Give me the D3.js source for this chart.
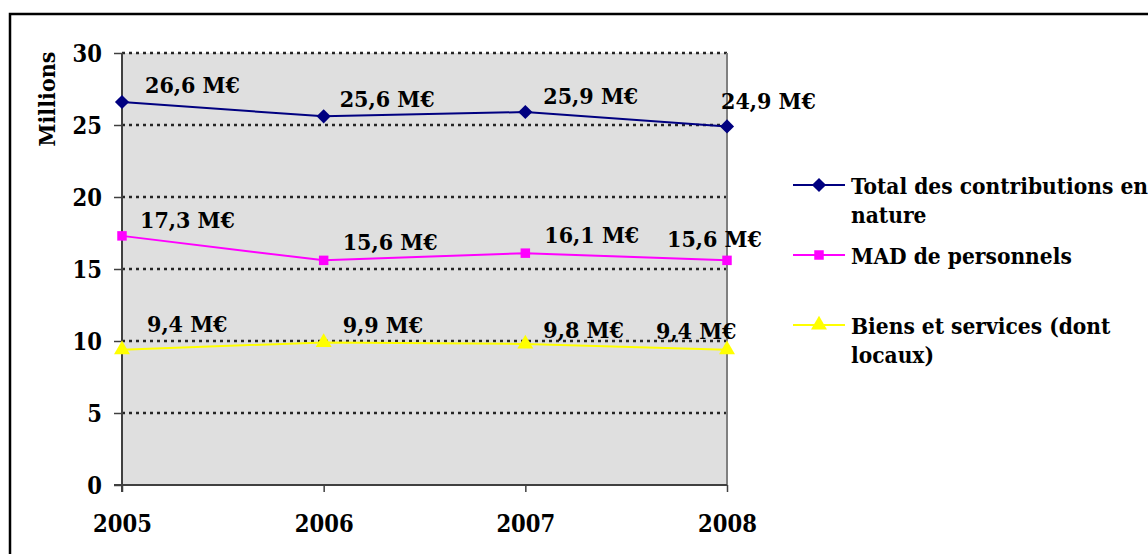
<!DOCTYPE html>
<html><head><meta charset="utf-8">
<script src="https://cdn.jsdelivr.net/npm/d3@7"></script>
<style>
html,body{margin:0;padding:0;background:#fff;}
svg text{font-family:"DejaVu Serif Condensed","DejaVu Serif",serif;font-weight:bold;fill:#000;}
</style></head>
<body>
<svg id="chart" width="1148" height="554"></svg>
<script>
const years = ["2005","2006","2007","2008"];
const seriesNames = ["Total des contributions en nature","MAD de personnels","Biens et services (dont locaux)"];
const totalValues = [26.6, 25.6, 25.9, 24.9];
const madValues = [17.3, 15.6, 16.1, 15.6];
const biensValues = [9.4, 9.9, 9.8, 9.4];
const yTicks = [0, 5, 10, 15, 20, 25, 30];
const yAxisTitle = "Millions";

// layout (label offsets relative to the point, not data)
const labelOffsets = [
  [[23,-9],[16,-9],[18,-8],[-6,-17]],
  [[18,-8],[19,-10],[19,-10],[-60,-13]],
  [[25,-18],[19,-9],[18,-6],[-71,-11]]
];
const colors = ["#000080","#FF00FF","#FFFF00"];
const shapes = [d3.symbolSquare, d3.symbolSquare, d3.symbolTriangle];
const rotations = [45, 0, 0];
const symSizes = [100, 90, 110];
const legendLines = [["Total des contributions en","nature"],["MAD de personnels"],["Biens et services (dont","locaux)"]];
const legendY = [185, 255, 325];

const svg = d3.select("#chart");
const pLeft = 122, pRight = 727, pTop = 53, pBottom = 485;
const FONT = '"DejaVu Serif Condensed","DejaVu Serif",serif';

// outer border
svg.append("rect").attr("x",10).attr("y",14).attr("width",1160).attr("height",600)
  .attr("fill","none").attr("stroke","#000").attr("stroke-width",2.5);

const x = d3.scalePoint().domain(years).range([pLeft,pRight]);
const y = d3.scaleLinear().domain([0,30]).range([pBottom,pTop]);

// plot background
svg.append("rect").attr("x",pLeft).attr("y",pTop).attr("width",pRight-pLeft).attr("height",pBottom-pTop)
  .attr("fill","#DFDFDF");

// gridlines
svg.append("g").selectAll("line").data(yTicks.filter(d=>d>0)).join("line")
  .attr("x1",pLeft).attr("x2",pRight).attr("y1",d=>y(d)).attr("y2",d=>y(d))
  .attr("stroke","#111").attr("stroke-width",2.5).attr("stroke-dasharray","3,4").attr("opacity",0.9);

// right border
svg.append("line").attr("x1",pRight).attr("x2",pRight).attr("y1",pTop).attr("y2",pBottom)
  .attr("stroke","#808080").attr("stroke-width",2);

// y axis
const yAxis = d3.axisLeft(y).tickValues(yTicks).tickSize(8).tickPadding(12).tickFormat(d3.format("d"));
const gy = svg.append("g").attr("transform",`translate(${pLeft},0)`).call(yAxis);
gy.select(".domain").attr("stroke","#404040").attr("stroke-width",2).attr("d",`M0,${pTop}V${pBottom+7}`);
gy.selectAll(".tick line").attr("stroke","#404040").attr("stroke-width",1.5);
gy.selectAll(".tick text").attr("font-size",23.5).attr("dy","0.36em")
  .style("font-family",FONT).style("font-weight","bold").attr("fill","#000");

// x axis
const xAxis = d3.axisBottom(x).tickSize(7).tickPadding(23);
const gx = svg.append("g").attr("transform",`translate(0,${pBottom})`).call(xAxis);
gx.select(".domain").attr("stroke","#404040").attr("stroke-width",2).attr("d",`M${pLeft-8},0H${pRight}`);
gx.selectAll(".tick line").attr("stroke","#404040").attr("stroke-width",1.5);
gx.selectAll(".tick text").attr("font-size",23.5)
  .style("font-family",FONT).style("font-weight","bold").attr("fill","#000");

// y title
svg.append("text").attr("transform","translate(55,99) rotate(-90)").attr("text-anchor","middle")
  .attr("font-size",23).text(yAxisTitle);

const allSeries = [totalValues, madValues, biensValues];
const line = d3.line().x((d,i)=>x(years[i])).y(d=>y(d));

allSeries.forEach((vals,s)=>{
  const g = svg.append("g");
  g.append("path").datum(vals).attr("d",line).attr("fill","none")
    .attr("stroke",colors[s]).attr("stroke-width",2);
  g.selectAll("path.m").data(vals).join("path").attr("class","m")
    .attr("transform",(d,i)=>`translate(${x(years[i])},${y(d)}) rotate(${rotations[s]})`)
    .attr("d",d3.symbol().type(shapes[s]).size(symSizes[s])).attr("fill",colors[s]);
  g.selectAll("text").data(vals).join("text")
    .attr("x",(d,i)=>x(years[i])+labelOffsets[s][i][0])
    .attr("y",(d,i)=>y(d)+labelOffsets[s][i][1])
    .attr("font-size",23)
    .text(d=>d3.format(".1f")(d).replace(".",",")+" M€");
});

// legend
seriesNames.forEach((name,s)=>{
  const ly = legendY[s];
  const g = svg.append("g");
  g.append("line").attr("x1",793).attr("x2",845).attr("y1",ly).attr("y2",ly)
    .attr("stroke",colors[s]).attr("stroke-width",2);
  g.append("path").attr("transform",`translate(819,${ly}) rotate(${rotations[s]})`)
    .attr("d",d3.symbol().type(shapes[s]).size(symSizes[s])).attr("fill",colors[s]);
  legendLines[s].forEach((t,k)=>{
    g.append("text").attr("x",851).attr("y",ly+9+k*29).attr("font-size",22.5).text(t);
  });
});
</script>
</body></html>
